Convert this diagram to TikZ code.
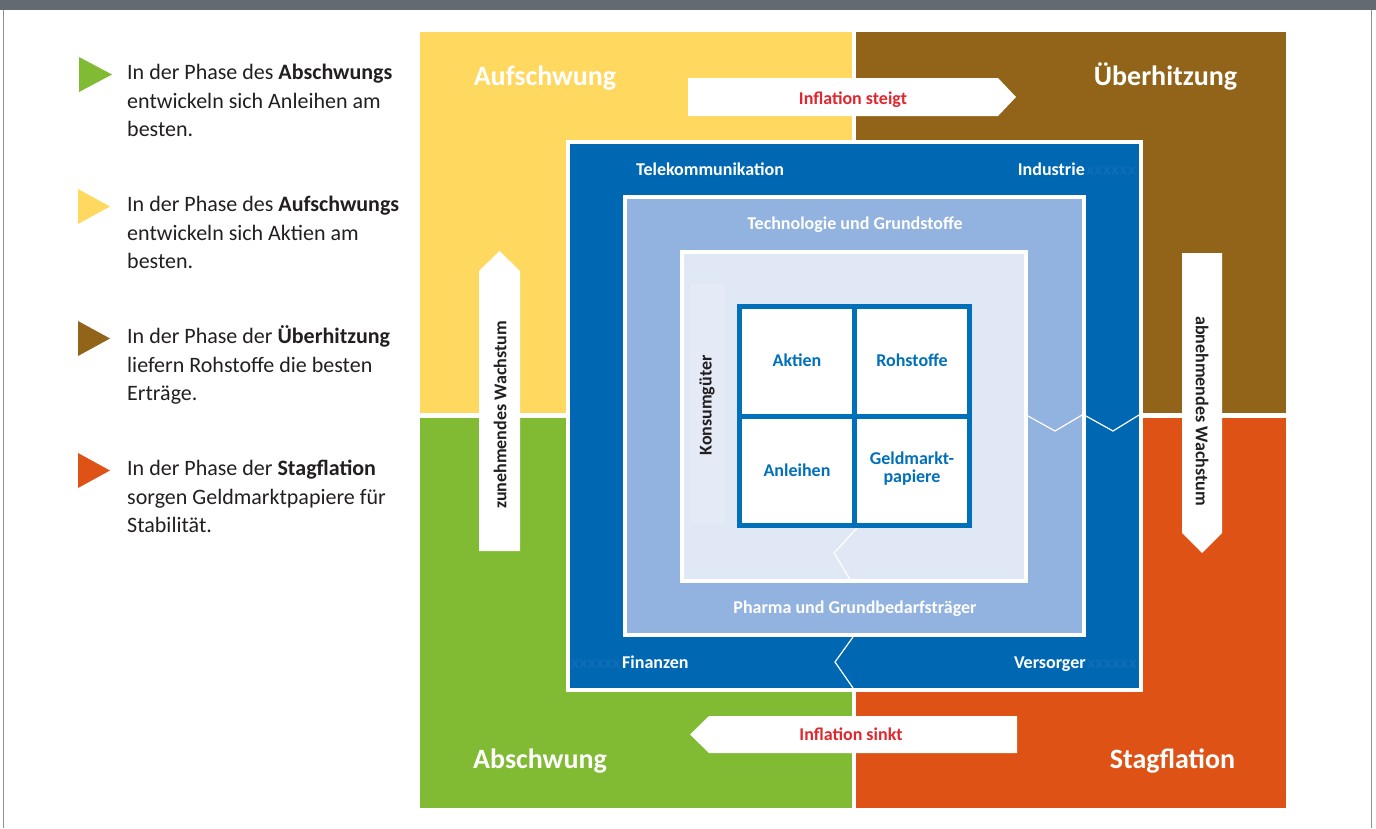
\documentclass[tikz,border=0pt]{standalone}
\usepackage{fontspec}
\setmainfont{Carlito}
\definecolor{cYel}{HTML}{FED85F}
\definecolor{cBrn}{HTML}{926419}
\definecolor{cGrn}{HTML}{80BB33}
\definecolor{cOrg}{HTML}{DE5315}
\definecolor{cBlue}{HTML}{0068B3}
\definecolor{cLBlue}{HTML}{92B2DF}
\definecolor{cPale}{HTML}{E1E8F5}
\definecolor{cBand}{HTML}{E4EBF7}
\definecolor{cGrid}{HTML}{0070BA}
\definecolor{cBar}{HTML}{646A71}
\definecolor{cFrame}{HTML}{8C9094}
\definecolor{cRed}{HTML}{E2262D}
\definecolor{cText}{HTML}{231F20}
\definecolor{cHid}{HTML}{0E6DB6}
\begin{document}
\begin{tikzpicture}[x=1pt,y=-1pt,
  quad/.style={rectangle,inner sep=0pt,outer sep=0pt,anchor=north west},
  frame/.style={rectangle,inner sep=0pt,outer sep=0pt,draw=white,line width=4pt},
  qtitle/.style={inner sep=0pt,anchor=base,text=white,font=\fontsize{28}{30}\selectfont\bfseries},
  lbl/.style={inner sep=0pt,text=white,font=\fontsize{18}{20}\selectfont\bfseries},
  hid/.style={inner sep=0pt,text=cHid,font=\fontsize{18}{20}\selectfont\bfseries},
  cell/.style={inner sep=0pt,anchor=base,text=cGrid,font=\fontsize{18}{20}\selectfont\bfseries},
  infl/.style={inner sep=0pt,anchor=base,text=cRed,font=\fontsize{18}{20}\selectfont\bfseries},
  vert/.style={inner sep=0pt,text=cText,font=\fontsize{18}{20}\selectfont\bfseries},
  legend/.style={inner sep=0pt,anchor=base west,text=cText,font=\fontsize{22}{28}\selectfont},
  zig/.style={draw=white,line width=1.2pt},
  ]
\useasboundingbox (0,0) rectangle (1376,828);
% page frame
\fill[cBar] (0,0) rectangle (1376,9.5);
\draw[cFrame,line width=1.5pt] (3.5,9.5) -- (3.5,828);
\draw[cFrame,line width=1.5pt] (1371.5,9.5) -- (1371.5,828);

% legend
\fill[cGrn] (79,57) -- (112,74.5) -- (79,92) -- cycle;
\node[legend] (l1a) at (127,79.5) {In der Phase des \textbf{Abschwungs}};
\node[legend] (l1b) at (127,108.2) {entwickeln sich Anleihen am};
\node[legend] (l1c) at (127,136.9) {besten.};
\fill[cYel] (78,189) -- (110,206.5) -- (78,224) -- cycle;
\node[legend] (l2a) at (127,211.5) {In der Phase des \textbf{Aufschwungs}};
\node[legend] (l2b) at (127,240.2) {entwickeln sich Aktien am};
\node[legend] (l2c) at (127,268.9) {besten.};
\fill[cBrn] (78,321) -- (110,338.5) -- (78,356) -- cycle;
\node[legend] (l3a) at (127,343.5) {In der Phase der \textbf{Überhitzung}};
\node[legend] (l3b) at (127,372.2) {liefern Rohstoffe die besten};
\node[legend] (l3c) at (127,400.9) {Erträge.};
\fill[cOrg] (78,453) -- (110,470.5) -- (78,488) -- cycle;
\node[legend] (l4a) at (127,475.5) {In der Phase der \textbf{Stagflation}};
\node[legend] (l4b) at (127,504.2) {sorgen Geldmarktpapiere für};
\node[legend] (l4c) at (127,532.9) {Stabilität.};

% quadrants
\node[quad,fill=cYel,minimum width=432pt,minimum height=381pt] (qauf) at (420,32) {};
\node[quad,fill=cBrn,minimum width=430pt,minimum height=381pt] (queb) at (856,32) {};
\node[quad,fill=cGrn,minimum width=432pt,minimum height=390pt] (qab) at (420,418) {};
\node[quad,fill=cOrg,minimum width=430pt,minimum height=390pt] (qstag) at (856,418) {};

\node[qtitle] (tauf) at (545,85) {Aufschwung};
\node[qtitle] (tueb) at (1165.5,85) {Überhitzung};
\node[qtitle] (tab) at (540,768) {Abschwung};
\node[qtitle] (tstag) at (1172.5,768) {Stagflation};

% nested squares
\node[frame,fill=cBlue,minimum width=573pt,minimum height=548pt] (sq1) at (854.5,416) {};
\node[frame,fill=cLBlue,minimum width=459pt,minimum height=438pt] (sq2) at (854.5,416) {};
\node[frame,fill=cPale,minimum width=344pt,minimum height=329pt] (sq3) at (854,416.5) {};
\node[rectangle,inner sep=0pt,fill=cBand,minimum width=35pt,minimum height=240pt] (band) at (707.5,403) {};
\node[vert,rotate=90] (konsum) at (707,405.5) {Konsumgüter};

% zigzag separators
\draw[zig] (1028,416) -- (1055,431) -- (1082,415);
\draw[zig] (1086,416) -- (1113,431) -- (1139,415);
\draw[zig] (857,528) -- (834,553) -- (851,581);
\draw[zig] (853,637) -- (835,662) -- (853,688);

% asset grid
\node[rectangle,inner sep=0pt,outer sep=0pt,draw=cGrid,fill=white,line width=5pt,minimum width=230pt,minimum height=219pt] (grid) at (854.5,416) {};
\draw[cGrid,line width=5pt] (grid.north) -- (grid.south);
\draw[cGrid,line width=5pt] (grid.west) -- (grid.east);
\node[cell] (aktien) at (797,366.7) {Aktien};
\node[cell] (rohst) at (912,366.7) {Rohstoffe};
\node[cell] (anl) at (797,476) {Anleihen};
\node[cell] (geld1) at (912,464) {Geldmarkt-};
\node[cell] (geld2) at (912,482) {papiere};

% sector labels
\node[lbl,anchor=base west] (tele) at (636,175) {Telekommunikation};
\node[lbl,anchor=base east] (indu) at (1085,175) {Industrie};
\node[hid,anchor=base west] (hid1) at ([xshift=1pt]indu.base east) {xxxxxx};
\node[lbl,anchor=base west] (fin) at (622,668) {Finanzen};
\node[hid,anchor=base east] (hid2) at ([xshift=-1pt]fin.base west) {xxxxxx};
\node[lbl,anchor=base east] (vers) at (1086,668) {Versorger};
\node[hid,anchor=base west] (hid3) at ([xshift=1pt]vers.base east) {xxxxxx};
\node[lbl,anchor=base] (tech) at (855,229) {Technologie und Grundstoffe};
\node[lbl,anchor=base] (pharma) at (855,613) {Pharma und Grundbedarfsträger};

% arrows
\fill[white] (688,78) -- (998,78) -- (1016,97) -- (998,116) -- (688,116) -- cycle;
\node[infl] (steigt) at (853,104) {Inflation steigt};
\fill[white] (709,716) -- (1017,716) -- (1017,753) -- (709,753) -- (690,734.5) -- cycle;
\node[infl] (sinkt) at (851,740) {Inflation sinkt};
\fill[white] (479,551) -- (479,271) -- (499.5,251) -- (520,271) -- (520,551) -- cycle;
\node[vert,rotate=90] (zun) at (500,415) {zunehmendes Wachstum};
\fill[white] (1182,253) -- (1222,253) -- (1222,533) -- (1202,553) -- (1182,533) -- cycle;
\node[vert,rotate=-90] (abn) at (1202,411) {abnehmendes Wachstum};
\end{tikzpicture}
\end{document}
